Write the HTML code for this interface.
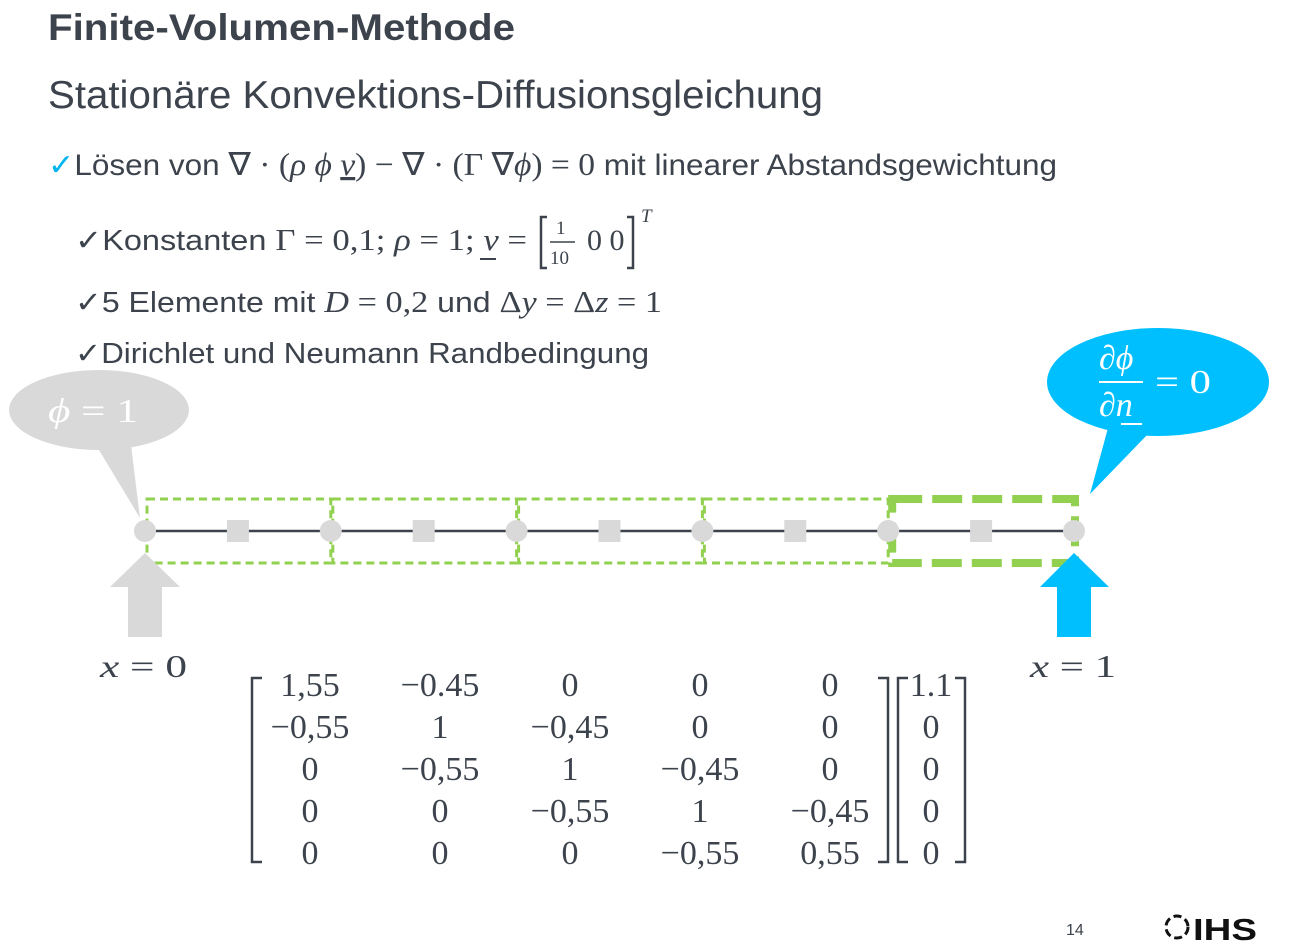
<!DOCTYPE html>
<html><head><meta charset="utf-8"><style>
html,body{margin:0;padding:0;background:#fff;width:1296px;height:952px;overflow:hidden}
svg{display:block}
.s{font-family:"Liberation Sans",sans-serif;fill:#3c434c}
.m{font-family:"Liberation Serif",serif;fill:#3c434c}
</style></head><body>
<svg id="slide" width="1296" height="952" viewBox="0 0 1296 952" xmlns="http://www.w3.org/2000/svg">
<text class="s" x="48" y="40" font-size="37" font-weight="bold" textLength="467" lengthAdjust="spacingAndGlyphs">Finite-Volumen-Methode</text>
<text class="s" x="48" y="108" font-size="39" textLength="775" lengthAdjust="spacingAndGlyphs">Stationäre Konvektions-Diffusionsgleichung</text>

<text class="s" x="48" y="175" font-size="30" textLength="1009" lengthAdjust="spacingAndGlyphs"><tspan fill="#00b4f0">✓</tspan>Lösen von <tspan font-family="Liberation Serif" font-size="32">∇ · (<tspan font-style="italic">ρ ϕ <tspan text-decoration="underline">v</tspan></tspan>) − ∇ · (Γ ∇<tspan font-style="italic">ϕ</tspan>) = 0</tspan> mit linearer Abstandsgewichtung</text>

<text class="s" x="75" y="250" font-size="29" textLength="452" lengthAdjust="spacingAndGlyphs">✓Konstanten <tspan font-family="Liberation Serif" font-size="31">Γ = 0,1; <tspan font-style="italic">ρ</tspan> = 1; <tspan font-style="italic">v</tspan> = </tspan></text>
<line x1="480" y1="259" x2="496" y2="259" stroke="#3c434c" stroke-width="2"/>
<path d="M547 217 L541 217 L541 268 L547 268" fill="none" stroke="#3c434c" stroke-width="2.5"/>
<text class="m" x="556" y="234" font-size="19">1</text>
<line x1="550" y1="242" x2="575" y2="242" stroke="#3c434c" stroke-width="1.5"/>
<text class="m" x="550" y="264" font-size="19">10</text>
<text class="m" x="587" y="250" font-size="30">0 0</text>
<path d="M627 217 L633 217 L633 268 L627 268" fill="none" stroke="#3c434c" stroke-width="2.5"/>
<text class="m" x="641" y="222" font-size="19" font-style="italic">T</text>

<text class="s" x="75" y="312" font-size="29" textLength="587" lengthAdjust="spacingAndGlyphs">✓5 Elemente mit <tspan font-family="Liberation Serif" font-size="31"><tspan font-style="italic">D</tspan> = 0,2</tspan> und <tspan font-family="Liberation Serif" font-size="31">Δ<tspan font-style="italic">y</tspan> = Δ<tspan font-style="italic">z</tspan> = 1</tspan></text>
<text class="s" x="75" y="363" font-size="29" textLength="574" lengthAdjust="spacingAndGlyphs">✓Dirichlet und Neumann Randbedingung</text>

<g>
<path d="M96 445 L140 518 L131 445 Z" fill="#d9d9d9"/>
<ellipse cx="99" cy="410" rx="90" ry="40" fill="#d9d9d9"/>
<text x="48" y="422" font-size="34" fill="#fff" font-family="Liberation Serif" textLength="90" lengthAdjust="spacingAndGlyphs"><tspan font-style="italic">ϕ</tspan> = 1</text>
</g>
<g>
<path d="M1108 428 L1090 494 L1148 434 Z" fill="#00bfff"/>
<ellipse cx="1158" cy="382" rx="111" ry="54" fill="#00bfff"/>
<text x="1099" y="369" font-size="34" fill="#fff" font-family="Liberation Serif" font-style="italic">∂ϕ</text>
<line x1="1099" y1="382" x2="1143" y2="382" stroke="#fff" stroke-width="2"/>
<text x="1099" y="416" font-size="34" fill="#fff" font-family="Liberation Serif" font-style="italic">∂n</text>
<line x1="1121" y1="424" x2="1142" y2="424" stroke="#fff" stroke-width="2"/>
<text x="1155" y="393" font-size="34" fill="#fff" font-family="Liberation Serif" textLength="56" lengthAdjust="spacingAndGlyphs">= 0</text>
</g>

<g id="mesh"></g>

<path d="M145 553 L180 587 L162 587 L162 637 L128 637 L128 587 L110 587 Z" fill="#d9d9d9"/>
<path d="M1074 553 L1109 587 L1091 587 L1091 637 L1057 637 L1057 587 L1040 587 Z" fill="#00bfff"/>

<text class="m" x="100" y="677" font-size="32" textLength="87" lengthAdjust="spacingAndGlyphs"><tspan font-style="italic">x</tspan> = 0</text>
<text class="m" x="1030" y="677" font-size="32" textLength="86" lengthAdjust="spacingAndGlyphs"><tspan font-style="italic">x</tspan> = 1</text>

<g id="matrix"></g>

<text class="s" x="1066" y="935" font-size="16">14</text>
<g>
<circle cx="1177" cy="927" r="11" fill="none" stroke="#111" stroke-width="3" stroke-dasharray="8 4"/>
<text x="1193" y="940" font-size="31" font-weight="bold" font-family="Liberation Sans" fill="#111" textLength="64" lengthAdjust="spacingAndGlyphs">IHS</text>
</g>
</svg>
<script>
const nodes=[0,0.2,0.4,0.6,0.8,1.0];
const matrix=[["1,55","−0.45","0","0","0"],["−0,55","1","−0,45","0","0"],["0","−0,55","1","−0,45","0"],["0","0","−0,55","1","−0,45"],["0","0","0","−0,55","0,55"]];
const rhs=["1.1","0","0","0","0"];
const NS="http://www.w3.org/2000/svg";
const xs=v=>145+v*(1074-145);
function mk(t,a,p){const e=document.createElementNS(NS,t);for(const k in a)e.setAttribute(k,a[k]);p.appendChild(e);return e;}
const mesh=document.getElementById('mesh');
for(let i=0;i<nodes.length-1;i++){
 const x0=xs(nodes[i]),x1=xs(nodes[i+1]);
 const last=i===nodes.length-2;
 const r=mk('rect',last?{x:x0+4,y:499,width:x1-x0-3,height:64,fill:'none',stroke:'#92d050','stroke-width':8,'stroke-dasharray':'30 10'}:{x:x0+2,y:499,width:x1-x0-2,height:64,fill:'none',stroke:'#92d050','stroke-width':3,'stroke-dasharray':'8 5'},mesh);
 
 
}
const ln=mk('line',{x1:xs(0),y1:531,x2:xs(1),y2:531,stroke:'#3c434c','stroke-width':2.5},mesh);


for(let i=0;i<nodes.length-1;i++){
 const c=(xs(nodes[i])+xs(nodes[i+1]))/2;
 const s=mk('rect',{x:c-11,y:520,width:22,height:22,fill:'#d9d9d9'},mesh);
 
 
}
nodes.forEach(v=>{
 const c=mk('circle',{cx:xs(v),cy:531,r:11,fill:'#d9d9d9'},mesh);
 
 
});
const mg=document.getElementById('matrix');
const colX=[310,440,570,700,830],rowY=[696,738,780,822,864];
matrix.forEach((row,r)=>row.forEach((v,c)=>{
 const t=mk('text',{x:colX[c],y:rowY[r],'text-anchor':'middle','font-size':34,class:'m'},mg);
 t.textContent=v;
 
 
}));
rhs.forEach((v,r)=>{
 const t=mk('text',{x:931,y:rowY[r],'text-anchor':'middle','font-size':34,class:'m'},mg);
 t.textContent=v;
 
 
});
[[262,252],[878,888],[908,898],[955,965]].forEach(([a,b])=>{
 const p=mk('path',{d:`M${a} 678 L${b} 678 L${b} 862 L${a} 862`,fill:'none',stroke:'#3c434c','stroke-width':2.5},mg);
 
 
});
</script>
</body></html>
